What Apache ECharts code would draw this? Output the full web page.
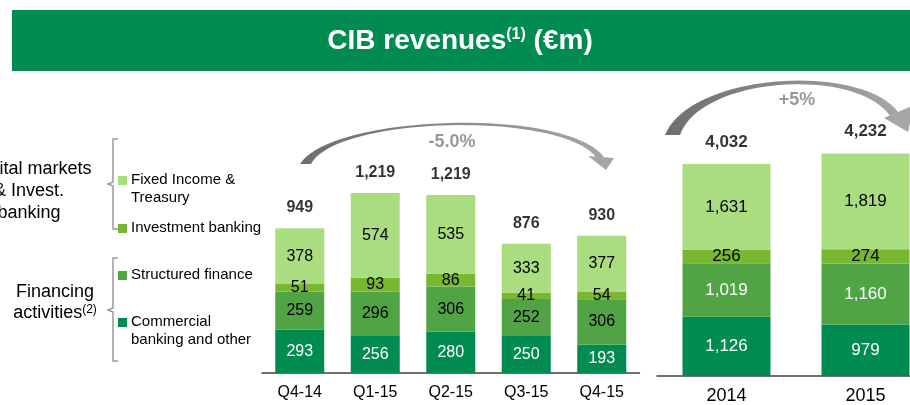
<!DOCTYPE html>
<html>
<head>
<meta charset="utf-8">
<script src="https://cdn.jsdelivr.net/npm/echarts@6/dist/echarts.min.js"></script>
<style>
  html, body { margin: 0; padding: 0; background: #fff; }
  #chart { width: 910px; height: 405px; }
</style>
</head>
<body>
<div id="chart"></div>
<script>
// quarterly data (€m)
const quarters = ['Q4-14', 'Q1-15', 'Q2-15', 'Q3-15', 'Q4-15']
const commercialQ = [293, 256, 280, 250, 193]
const structuredQ = [259, 296, 306, 252, 306]
const investmentQ = [51, 93, 86, 41, 54]
const fixedIncomeQ = [378, 574, 535, 333, 377]
const totalQ = [949, 1219, 1219, 876, 930]

// yearly data (€m)
const years = ['2014', '2015']
const commercialY = [1126, 979]
const structuredY = [1019, 1160]
const investmentY = [256, 274]
const fixedIncomeY = [1631, 1819]
const totalY = [4032, 4232]

const seriesNames = ['Commercial banking and other', 'Structured finance', 'Investment banking', 'Fixed Income & Treasury']
const colors = ['#008C50', '#50A444', '#78B830', '#AADC80']
const quarterGrowth = '-5.0%'
const yearGrowth = '+5%'

const FONT = "'Liberation Sans', Arial, sans-serif"
const fmt = v => v.toLocaleString('en-US')

const quarterStacks = [commercialQ, structuredQ, investmentQ, fixedIncomeQ]
const yearStacks = [commercialY, structuredY, investmentY, fixedIncomeY]
const labelColorsQ = ['#fff', '#000', '#000', '#000']
const labelColorsY = ['#fff', '#fff', '#000', '#000']

const stackTops = stacks => stacks[0].map((_, j) => stacks.reduce((s, a) => s + a[j], 0))

const barSeries = (data, i, axis, width, fontSize, labelColor) => ({
  name: seriesNames[i],
  type: 'bar',
  stack: 'stack' + axis,
  xAxisIndex: axis,
  yAxisIndex: axis,
  barWidth: width,
  data: data,
  itemStyle: { color: colors[i] },
  label: {
    show: true, position: 'inside', color: labelColor, fontSize: fontSize,
    fontFamily: FONT, formatter: p => fmt(p.value)
  },
  silent: true
})

const totalSeries = (tops, totals, axis, fontSize, distance) => ({
  type: 'scatter',
  xAxisIndex: axis,
  yAxisIndex: axis,
  symbolSize: 1,
  itemStyle: { color: 'rgba(0,0,0,0)' },
  data: tops,
  label: {
    show: true, position: 'top', distance: distance, color: '#000',
    fontWeight: 'bold', fontSize: fontSize, fontFamily: FONT,
    formatter: p => fmt(totals[p.dataIndex])
  },
  silent: true
})

const series = []
quarterStacks.forEach((d, i) => series.push(barSeries(d, i, 0, 49, 16, labelColorsQ[i])))
yearStacks.forEach((d, i) => series.push(barSeries(d, i, 1, 88, 17, labelColorsY[i])))
series.push(totalSeries(stackTops(quarterStacks), totalQ, 0, 16, 12))
series.push(totalSeries(stackTops(yearStacks), totalY, 1, 17, 13))

const txt = (x, y, text, size, opts = {}) => ({
  type: 'text', x: 0, y: 0, silent: true,
  style: Object.assign({
    x: x, y: y, text: text, fill: '#000', fontSize: size, fontFamily: FONT,
    textAlign: 'left', textVerticalAlign: 'middle'
  }, opts)
})

const square = (x, y, color) => ({
  type: 'rect', silent: true, shape: { x: x, y: y, width: 9, height: 9 }, style: { fill: color }
})

const bracket = points => ({
  type: 'polyline', silent: true, shape: { points: points },
  style: { stroke: '#9a9a9a', lineWidth: 1.5, fill: null }
})

// sample a cubic curve for the decorative growth arrows
const curve = (p0, p1, p2, p3, n = 40) => {
  const pts = []
  for (let k = 0; k <= n; k++) {
    const t = k / n, u = 1 - t
    pts.push([
      u * u * u * p0[0] + 3 * u * u * t * p1[0] + 3 * u * t * t * p2[0] + t * t * t * p3[0],
      u * u * u * p0[1] + 3 * u * u * t * p1[1] + 3 * u * t * t * p2[1] + t * t * t * p3[1]
    ])
  }
  return pts
}

const arrowFill = {
  type: 'linear', x: 0, y: 0, x2: 1, y2: 0,
  colorStops: [{ offset: 0, color: '#6e6e6e' }, { offset: 1, color: '#a6a6a6' }]
}

const arc = (outer, inner) => ({
  type: 'polygon', silent: true,
  shape: { points: curve(...outer).concat(curve(...inner)) },
  style: { fill: arrowFill }
})

const graphic = [
  // header banner
  { type: 'rect', silent: true, shape: { x: 12, y: 10, width: 898, height: 61 }, style: { fill: '#008C50' } },
  txt(460, 41, '{a|CIB revenues}{s|(1)}{a| (€m)}', 28, {
    textAlign: 'center', fill: '#fff', fontWeight: 'bold',
    rich: {
      a: { fontSize: 28, fontWeight: 'bold', fill: '#fff', fontFamily: FONT },
      s: { fontSize: 16, fontWeight: 'bold', fill: '#fff', fontFamily: FONT, verticalAlign: 'top' }
    }
  }),
  // growth arrows
  arc([[300, 164], [330, 115], [565, 106], [604, 157]], [[596, 157], [560, 111], [336, 116], [311, 164]]),
  { type: 'polygon', silent: true, shape: { points: [[588, 156], [614, 158], [606, 170]] }, style: { fill: '#a6a6a6' } },
  txt(452, 142, quarterGrowth, 18, { textAlign: 'center', fill: '#999', fontWeight: 'bold' }),
  arc([[665, 135], [690, 73], [860, 62], [898, 112]], [[890, 116], [855, 66], [700, 77], [680, 135]]),
  { type: 'polygon', silent: true, shape: { points: [[884, 118], [914, 105], [908, 132]] }, style: { fill: '#a6a6a6' } },
  txt(797, 100, yearGrowth, 18, { textAlign: 'center', fill: '#999', fontWeight: 'bold' }),
  // group captions
  txt(29, 169, 'Capital markets', 18, { textAlign: 'center' }),
  txt(29, 191, '& Invest.', 18, { textAlign: 'center' }),
  txt(29, 213, 'banking', 18, { textAlign: 'center' }),
  txt(55, 292, 'Financing', 18, { textAlign: 'center' }),
  txt(55, 313, '{t|activities}{s|(2)}', 18, {
    textAlign: 'center',
    rich: {
      t: { fontSize: 18, fill: '#000', fontFamily: FONT },
      s: { fontSize: 12, fill: '#000', fontFamily: FONT, verticalAlign: 'top' }
    }
  }),
  bracket([[118, 139], [113, 139], [113, 182], [108, 184], [113, 186], [113, 229], [118, 229]]),
  bracket([[118, 258], [113, 258], [113, 308], [108, 310], [113, 312], [113, 361], [118, 361]]),
  // legend
  square(118, 176, colors[3]),
  txt(131, 180, 'Fixed Income &', 15),
  txt(131, 198, 'Treasury', 15),
  square(118, 224, colors[2]),
  txt(131, 228, 'Investment banking', 15),
  square(118, 271, colors[1]),
  txt(131, 275, 'Structured finance', 15),
  square(118, 318, colors[0]),
  txt(131, 322, 'Commercial', 15),
  txt(131, 340, 'banking and other', 15)
]

const chart = echarts.init(document.getElementById('chart'))
chart.setOption({
  animation: false,
  textStyle: { fontFamily: FONT },
  grid: [
    { left: 262, width: 377.5, top: 100, bottom: 32, outerBoundsMode: 'none' },
    { left: 657, width: 278, top: 100, bottom: 29, outerBoundsMode: 'none' }
  ],
  xAxis: [
    { type: 'category', gridIndex: 0, data: quarters,
      axisLine: { lineStyle: { color: '#404040', width: 1.5 } },
      axisTick: { show: false },
      axisLabel: { color: '#000', fontSize: 16, margin: 12, fontFamily: FONT } },
    { type: 'category', gridIndex: 1, data: years,
      axisLine: { lineStyle: { color: '#404040', width: 1.5 } },
      axisTick: { show: false },
      axisLabel: { color: '#000', fontSize: 18, margin: 11, fontFamily: FONT } }
  ],
  yAxis: [
    { type: 'value', gridIndex: 0, min: 0, max: 1850, show: false },
    { type: 'value', gridIndex: 1, min: 0, max: 5250, show: false }
  ],
  series: series,
  graphic: graphic
})
</script>
</body>
</html>
